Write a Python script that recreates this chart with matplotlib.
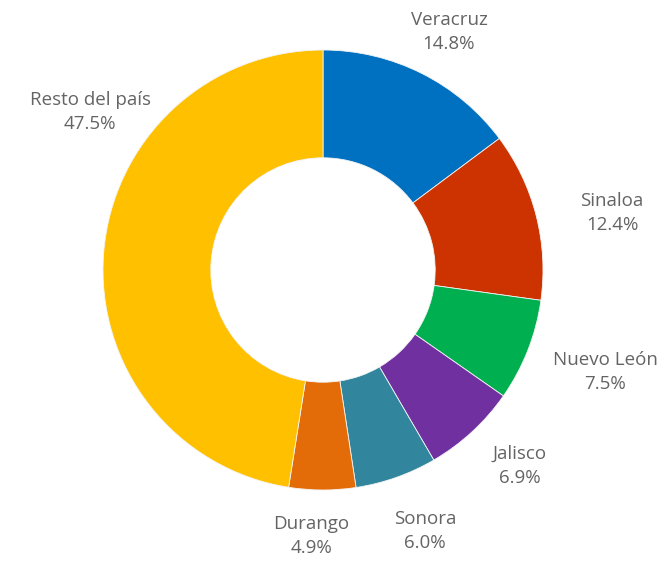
import matplotlib as mpl
mpl.use('Agg')
from matplotlib import pyplot as plt

# data
estados = ['Veracruz', 'Sinaloa', 'Nuevo León', 'Jalisco', 'Sonora', 'Durango', 'Resto del país']
porcentajes = [14.8, 12.4, 7.5, 6.9, 6.0, 4.9, 47.5]
colores = ['#0070C0', '#CC3300', '#00B050', '#7030A0', '#31859C', '#E36C09', '#FFC000']

# label centres in pixels (from top-left), picked by hand like Excel did
label_px = [(449, 32), (612, 213), (605, 372), (520, 466), (425, 531), (311, 536), (90, 112)]

W, H = 665, 563
cx, cy, R = 323, 270, 220  # donut centre / radius in pixels

fig = plt.figure(figsize=(W / 100, H / 100), dpi=100)
ax = fig.add_axes([0, 0, 1, 1])

ax.pie(porcentajes, colors=colores, startangle=90, counterclock=False,
       radius=1.0, wedgeprops=dict(width=0.49, edgecolor='#f4f4f4', linewidth=0.6))

ax.set_xlim(-cx / R, (W - cx) / R)
ax.set_ylim(-(H - cy) / R, cy / R)
ax.set_aspect('equal')
ax.axis('off')

for name, val, (px, py) in zip(estados, porcentajes, label_px):
    x = (px - cx) / R
    y = (cy - py) / R
    ax.text(x, y, f'{name}\n{val:.1f}%', ha='center', va='center',
            fontsize=13.5, color='#646464', family='Open Sans', linespacing=1.4)

plt.savefig('out.png', dpi=100)
